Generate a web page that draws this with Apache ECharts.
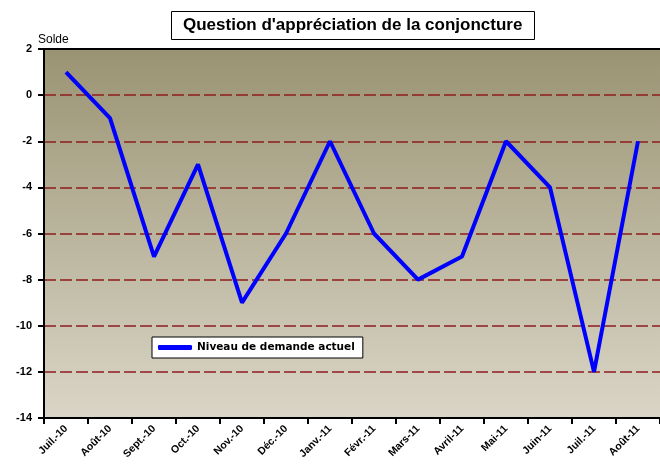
<!DOCTYPE html>
<html>
<head>
<meta charset="utf-8">
<script src="https://cdn.jsdelivr.net/npm/echarts@6/dist/echarts.min.js"></script>
<style>
  html, body { margin: 0; padding: 0; background: #fff; }
  #main { width: 660px; height: 470px; }
</style>
</head>
<body>
<div id="main"></div>
<script>
// données du graphique
var mois = ['Juil.-10', 'Août-10', 'Sept.-10', 'Oct.-10', 'Nov.-10', 'Déc.-10', 'Janv.-11',
            'Févr.-11', 'Mars-11', 'Avril-11', 'Mai-11', 'Juin-11', 'Juil.-11', 'Août-11'];
var niveauDemande = [1, -1, -7, -3, -9, -6, -2, -6, -8, -7, -2, -4, -12, -2];
var nomSerie = 'Niveau de demande actuel';

var police = 'Liberation Sans, Arial, sans-serif';

var option = {
    backgroundColor: '#fff',
    animation: false,
    title: {
        text: "Question d'appréciation de la conjoncture",
        left: 171,
        top: 11,
        padding: [6, 12, 6, 12],
        borderColor: '#000',
        borderWidth: 1,
        backgroundColor: '#fff',
        textStyle: { fontFamily: police, fontSize: 17, fontWeight: 'bold', color: '#000' }
    },
    legend: {
        left: 152,
        top: 337,
        padding: [5, 8, 5, 6],
        backgroundColor: '#fff',
        borderColor: '#000',
        borderWidth: 1,
        itemWidth: 34,
        itemHeight: 5,
        icon: 'roundRect',
        textStyle: { fontFamily: 'DejaVu Sans, sans-serif', fontSize: 10.5, fontWeight: 'bold', color: '#000' },
        data: [nomSerie]
    },
    grid: {
        show: true,
        left: 44,
        top: 49,
        bottom: 52,
        width: 620,
        borderWidth: 0,
        backgroundColor: new echarts.graphic.LinearGradient(0, 0, 0, 1, [
            { offset: 0, color: '#9a9373' },
            { offset: 1, color: '#dad6c7' }
        ])
    },
    xAxis: [{
        type: 'category',
        data: mois,
        boundaryGap: true,
        axisLine: { onZero: false, lineStyle: { color: '#000', width: 2 } },
        axisTick: { show: true, length: 6, lineStyle: { color: '#000', width: 2 } },
        axisLabel: {
            interval: 0,
            rotate: 45,
            margin: 9,
            fontFamily: police,
            fontSize: 10.5,
            fontWeight: 'bold',
            color: '#000'
        },
        splitLine: { show: false }
    }, {
        // trait noir du haut du cadre
        type: 'category',
        position: 'top',
        data: mois,
        axisLine: { onZero: false, lineStyle: { color: '#000', width: 2 } },
        axisTick: { show: false },
        axisLabel: { show: false },
        splitLine: { show: false }
    }],
    yAxis: {
        type: 'value',
        min: -14,
        max: 2,
        interval: 2,
        name: 'Solde',
        nameLocation: 'end',
        nameGap: 3,
        nameTextStyle: { fontFamily: police, fontSize: 12, color: '#000', align: 'left', padding: [0, 0, 0, -6] },
        axisLine: { show: true, onZero: false, lineStyle: { color: '#000', width: 2 } },
        axisTick: { show: true, length: 6, lineStyle: { color: '#000', width: 2 } },
        axisLabel: { margin: 12, fontFamily: police, fontSize: 11, fontWeight: 'bold', color: '#000' },
        splitLine: { show: true, lineStyle: { color: '#8e1c1c', width: 1.5, type: [12, 4] } }
    },
    series: [{
        name: nomSerie,
        type: 'line',
        data: niveauDemande,
        symbol: 'none',
        showSymbol: false,
        lineStyle: { color: '#0000ff', width: 4 },
        itemStyle: { color: '#0000ff' }
    }]
};

var myChart = echarts.init(document.getElementById('main'));
myChart.setOption(option);
</script>
</body>
</html>
